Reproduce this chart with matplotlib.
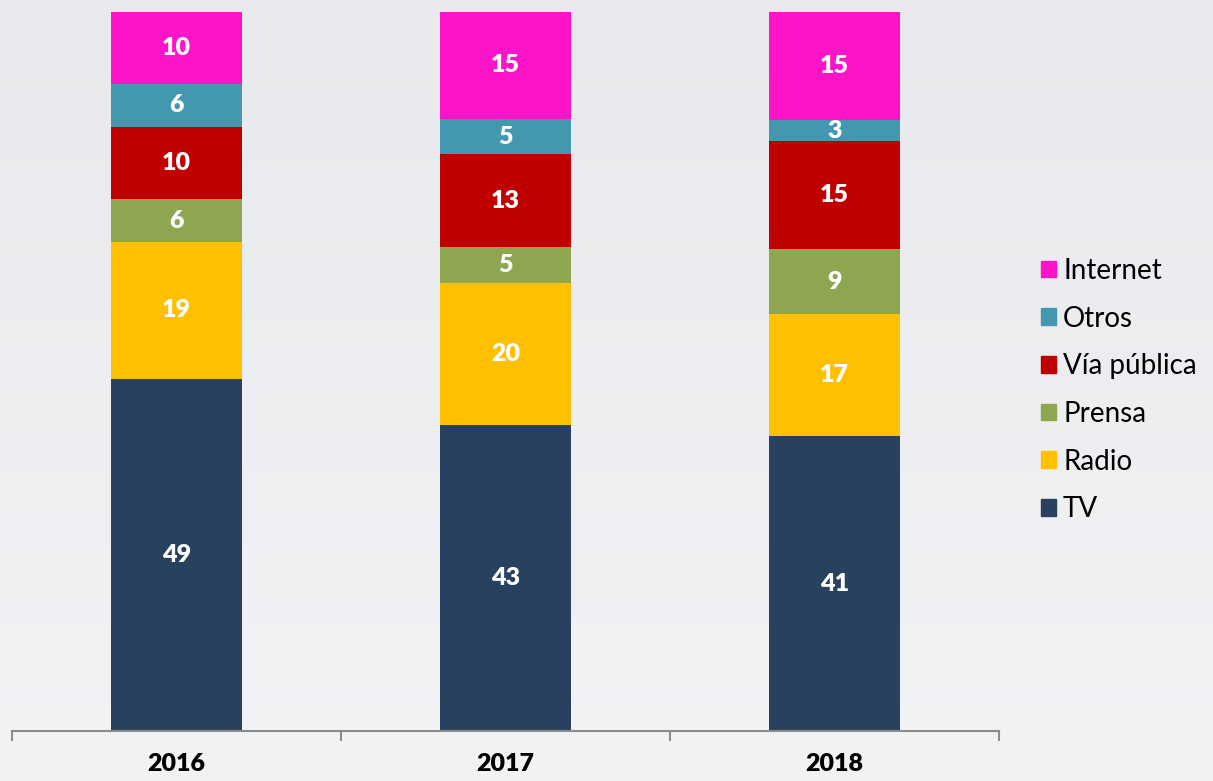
import numpy as np
import matplotlib
matplotlib.use("Agg")
from matplotlib import pyplot as plt
from matplotlib.patches import Patch

# data (labels as shown; bars drawn as 100% stacked)
years = ["2016", "2017", "2018"]
series = ["TV", "Radio", "Prensa", "Vía pública", "Otros", "Internet"]
tv = [49, 43, 41]
radio = [19, 20, 17]
prensa = [6, 5, 9]
via_publica = [10, 13, 15]
otros = [6, 5, 3]
internet = [10, 15, 15]
colors = ["#27415F", "#FFC000", "#8DA64F", "#C00000", "#4398AF", "#FC14C8"]

values = np.array([tv, radio, prensa, via_publica, otros, internet], dtype=float)
shares = values / values.sum(axis=0) * 100

plt.rcParams["font.family"] = ["Lato", "DejaVu Sans"]

fig = plt.figure(figsize=(12.13, 7.81), dpi=100)

# light gray gradient background
bg = fig.add_axes([0, 0, 1, 1], zorder=-10)
grad = np.linspace(0, 1, 256).reshape(-1, 1)
bg.imshow(grad, aspect="auto", cmap=matplotlib.colors.LinearSegmentedColormap.from_list(
    "bg", ["#E8E9EC", "#F2F3F5"]), extent=[0, 1, 0, 1])
bg.axis("off")

ax = fig.add_axes([12 / 1213, 1 - 731 / 781, 987 / 1213, 719 / 781])
ax.patch.set_alpha(0)

x = np.arange(len(years))
bottom = np.zeros(len(years))
for i, name in enumerate(series):
    ax.bar(x, shares[i], 0.4, bottom=bottom, color=colors[i], edgecolor="none", label=name)
    for j in range(len(years)):
        ax.text(x[j], bottom[j] + shares[i][j] / 2, "%d" % values[i][j], ha="center", va="center",
                color="white", fontsize=18, fontweight="heavy")
    bottom += shares[i]

ax.set_xlim(-0.5, 2.5)
ax.set_ylim(0, 100)
ax.set_yticks([])
for s in ["top", "right", "left"]:
    ax.spines[s].set_visible(False)
ax.spines["bottom"].set_color("#8C8C8C")
ax.spines["bottom"].set_linewidth(1.5)

ax.set_xticks([-0.5, 0.5, 1.5, 2.5])
ax.set_xticklabels([])
ax.tick_params(axis="x", which="major", direction="out", length=7, width=1.5, color="#8C8C8C")
ax.set_xticks(x, minor=True)
ax.set_xticklabels(years, minor=True, fontsize=18, fontweight="heavy")
ax.tick_params(axis="x", which="minor", length=0, pad=16)

handles = [Patch(color=colors[i], label=series[i]) for i in range(len(series))][::-1]
fig.legend(handles=handles, loc="center left", bbox_to_anchor=(1027 / 1213, 1 - 390 / 781),
           frameon=False, fontsize=20, handlelength=0.55, handleheight=0.55,
           handletextpad=0.25, labelspacing=0.78, borderpad=0)

fig.savefig("out.png", dpi=100, facecolor=fig.get_facecolor())
